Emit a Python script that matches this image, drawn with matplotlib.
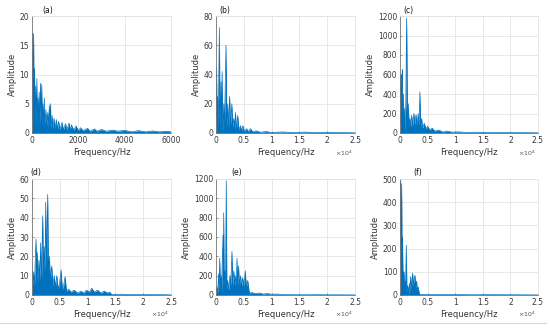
import matplotlib
matplotlib.use("Agg")
import matplotlib.pyplot as plt
from matplotlib.lines import Line2D

# spectra as (frequency Hz, amplitude) peak/trough pairs
freq_a = [0, 30, 50, 70, 90, 110, 130, 160, 180, 210, 230, 260, 280, 310, 330, 370, 390,
          420, 440, 470, 490, 530, 550, 600, 620, 680, 700, 750, 770, 800, 820, 870, 900,
          950, 1000, 1050, 1100, 1150, 1200, 1300, 1350, 1450, 1500, 1600, 1650, 1700,
          1800, 1900, 2000, 2100, 2200, 2400, 2500, 2700, 2800, 3000, 3200, 3500, 3700,
          4000, 4300, 4600, 4900, 5200, 5500, 5800, 6000]
amp_a = [3, 17, 2, 17, 3, 11, 2, 8, 1.5, 9.3, 2, 6, 1, 7, 1.5, 8.5, 2,
         8.3, 1.5, 5, 1, 6, 1.5, 4, 1, 3.5, 1, 4.7, 1, 5, 1, 3, 0.8,
         2.5, 0.7, 2.3, 0.6, 2, 0.6, 1.8, 0.5, 1.6, 0.5, 1.7, 0.5, 1.4,
         0.5, 1.2, 0.4, 0.9, 0.4, 0.8, 0.3, 0.7, 0.3, 0.6, 0.3, 0.5, 0.3,
         0.45, 0.2, 0.4, 0.2, 0.35, 0.2, 0.3, 0.2]

freq_b = [0, 100, 200, 300, 400, 600, 750, 900, 1000, 1100, 1250, 1400, 1500, 1650, 1800,
          1950, 2100, 2250, 2450, 2600, 2850, 3000, 3200, 3350, 3500, 3650, 3900, 4100,
          4400, 4600, 4850, 5100, 5500, 5800, 6200, 6600, 7200, 8000, 9000, 10000, 12000,
          14000, 16000, 18000, 20000, 22000, 24000, 25000]
amp_b = [10, 45, 5, 25, 3, 72, 2, 35, 3, 42, 1, 20, 2, 30, 60,
         3, 20, 4, 25, 5, 20, 4, 10, 3, 14, 2, 12, 2,
         5, 1.5, 5, 1, 3, 1, 3, 0.8, 1.5, 0.5, 1, 0.4, 0.7,
         0.3, 0.6, 0.3, 0.5, 0.3, 0.2, 0.1]

freq_c = [0, 100, 180, 260, 350, 420, 500, 600, 700, 800, 900, 1050, 1200, 1350, 1500,
          1650, 1800, 1950, 2100, 2300, 2500, 2700, 2900, 3100, 3300, 3450, 3600, 3750,
          3900, 4100, 4400, 4700, 5000, 5400, 5800, 6300, 7000, 7800, 8500, 9500, 10500,
          12000, 14000, 16000, 18000, 20000, 22000, 25000]
amp_c = [100, 500, 600, 150, 550, 650, 200, 400, 100, 250, 20, 300, 1180, 150, 300,
         80, 150, 60, 180, 80, 200, 90, 190, 80, 200, 70, 420, 60,
         150, 50, 100, 40, 70, 30, 50, 20, 30, 10, 20, 8, 12,
         5, 8, 4, 6, 3, 4, 2]

freq_d = [0, 150, 300, 450, 600, 720, 850, 960, 1100, 1250, 1400, 1560, 1700, 1920, 2050,
          2200, 2350, 2460, 2600, 2820, 2950, 3120, 3300, 3550, 3750, 4000, 4200, 4450,
          4700, 4950, 5230, 5450, 5700, 5950, 6200, 6600, 7000, 7600, 8200, 8800, 9300,
          9800, 10300, 10760, 11200, 11800, 12400, 13000, 13600, 14000, 14300, 16000,
          18000, 20000, 22000, 25000]
amp_d = [15, 5, 12, 4, 20, 29, 8, 22, 6, 18, 8, 27, 6, 41, 10,
         25, 12, 48, 15, 52, 12, 20, 8, 15, 5, 10, 4, 10,
         3, 6, 13, 3, 5, 9.5, 2, 3, 1.5, 2.5, 1, 2, 1,
         2.5, 1.5, 3.5, 1.5, 2.5, 1, 2, 1, 1.5, 0.3, 0.4,
         0.2, 0.3, 0.2, 0.1]

freq_e = [0, 150, 300, 480, 550, 660, 780, 900, 1000, 1100, 1260, 1330, 1380, 1480, 1600,
          1700, 1850, 1950, 2100, 2300, 2500, 2650, 2870, 3000, 3200, 3400, 3550, 3650,
          3770, 3900, 4050, 4200, 4400, 4600, 4800, 5000, 5260, 5450, 5700, 5900, 6000,
          6500, 7000, 7800, 8500, 9200, 10000, 11000, 12000, 14000, 16000, 18000, 20000,
          22000, 25000]
amp_e = [30, 80, 30, 220, 50, 380, 60, 200, 40, 300, 620, 100, 850, 80, 250,
         60, 1180, 60, 150, 50, 200, 100, 450, 100, 250, 100, 200, 120,
         380, 100, 300, 100, 200, 90, 180, 90, 250, 80, 150, 60, 20,
         25, 15, 20, 10, 15, 8, 10, 4, 3, 2, 3, 2,
         2, 1]

freq_f = [0, 60, 120, 200, 300, 380, 450, 550, 650, 720, 800, 900, 1000, 1140, 1250,
          1400, 1550, 1700, 1800, 1930, 2050, 2290, 2400, 2550, 2710, 2850, 3000, 3150,
          3300, 3450, 3600, 5000, 7000, 10000, 13000, 16000, 20000, 25000]
amp_f = [200, 350, 500, 150, 480, 120, 250, 60, 90, 100, 40, 60, 30, 215, 20,
         40, 5, 50, 20, 80, 30, 95, 40, 70, 85, 30, 60, 20,
         35, 10, 3, 2, 1.5, 2, 1, 1.5, 1, 0.5]

labels = ["(a)", "(b)", "(c)", "(d)", "(e)", "(f)"]
spectra = [(freq_a, amp_a), (freq_b, amp_b), (freq_c, amp_c),
           (freq_d, amp_d), (freq_e, amp_e), (freq_f, amp_f)]
ylims = [20, 80, 1200, 60, 1200, 500]
yticks = [[0, 5, 10, 15, 20], [0, 20, 40, 60, 80], [0, 200, 400, 600, 800, 1000, 1200],
          [0, 10, 20, 30, 40, 50, 60], [0, 200, 400, 600, 800, 1000, 1200],
          [0, 100, 200, 300, 400, 500]]
khz_ticks = [0, 5000, 10000, 15000, 20000, 25000]

W, H = 550, 329
# axes boxes in pixels: left, top, right, bottom
boxes = [(32, 16, 171, 133), (216, 16, 355, 133), (400, 16, 538, 133),
         (32, 179, 171, 295), (216, 179, 355, 295), (400, 179, 538, 295)]
label_pos = [(0.11, 1.045), (0.065, 1.045), (0.06, 1.045),
             (0.025, 1.055), (0.15, 1.055), (0.13, 1.055)]

blue = "#0072BD"
fig = plt.figure(figsize=(W / 100, H / 100), dpi=100)

for i, (lab, (fr, am)) in enumerate(zip(labels, spectra)):
    l, t, r, b = boxes[i]
    ax = fig.add_axes([l / W, 1 - b / H, (r - l) / W, (b - t) / H])
    ax.fill_between(fr, am, 0, color=blue, linewidth=0)
    ax.plot(fr, am, color=blue, linewidth=0.5)
    ax.set_ylim(0, ylims[i])
    ax.set_yticks(yticks[i])
    if i == 0:
        ax.set_xlim(0, 6000)
        ax.set_xticks([0, 2000, 4000, 6000])
    else:
        ax.set_xlim(0, 25000)
        ax.set_xticks(khz_ticks, labels=[f"{v / 1e4:g}" for v in khz_ticks])
        ax.text(0.92, -0.17, r"$\times10^4$", transform=ax.transAxes,
                fontsize=4.5, color="#555555", ha="center", va="center")
    ax.grid(color="#e4e4e4", linewidth=0.6)
    ax.set_axisbelow(True)
    for side in ["top", "right"]:
        ax.spines[side].set_color("#e4e4e4")
        ax.spines[side].set_linewidth(0.6)
    for side in ["left", "bottom"]:
        ax.spines[side].set_color("#777777")
        ax.spines[side].set_linewidth(0.6)
    ax.tick_params(direction="in", length=1.5, width=0.5, colors="#777777",
                   labelsize=5.5, labelcolor="#3a3a3a", pad=2)
    ax.set_xlabel("Frequency/Hz", fontsize=6, color="#333333", labelpad=2)
    ax.set_ylabel("Amplitude", fontsize=6, color="#333333", labelpad=2)
    ax.text(label_pos[i][0], label_pos[i][1], lab, transform=ax.transAxes,
            fontsize=5.5, ha="center", va="center", color="#111111")

fig.add_artist(Line2D([0, 546 / W], [1 - 323 / H, 1 - 323 / H],
                      transform=fig.transFigure, color="#d6d6d6", linewidth=0.8))

fig.savefig("out.png", dpi=100)
